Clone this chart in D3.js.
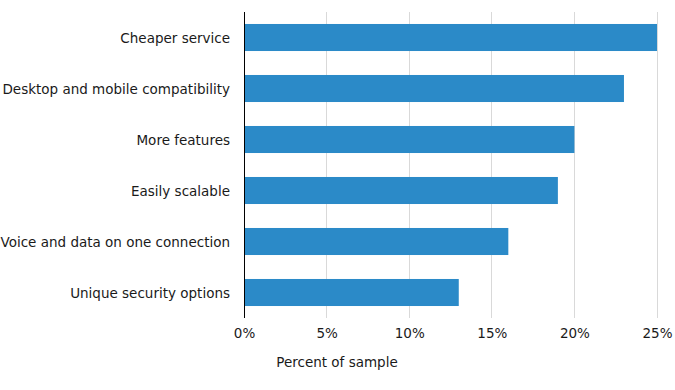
<!DOCTYPE html>
<html><head><meta charset="utf-8">
<script src="https://cdn.jsdelivr.net/npm/d3@7"></script>
<style>body{margin:0;background:#fff}svg{display:block}text{font-family:"DejaVu Sans",Verdana,sans-serif;fill:#1a1a1a}</style>
</head><body>
<svg id="c" width="675" height="390"></svg>
<script>
const categories = ["Cheaper service","Desktop and mobile compatibility","More features","Easily scalable","Voice and data on one connection","Unique security options"];
const values = [25,23,20,19,16,13];
const tickValues = [0,5,10,15,20,25];
const xTitle = "Percent of sample";

const svg = d3.select("#c");
const mLeft = 244, mRight = 657, mTop = 12, mBottom = 318;
const fs = "13.5px";
const x = d3.scaleLinear().domain([0,25]).range([mLeft,mRight]);
const y = d3.scaleBand().domain(categories).range([mTop,mBottom]).paddingInner(0.47).paddingOuter(0.235);

svg.append("g").selectAll("line").data(tickValues.slice(1)).join("line")
  .attr("x1",d=>x(d)).attr("x2",d=>x(d)).attr("y1",mTop).attr("y2",mBottom)
  .attr("stroke","#d9d9d9").attr("stroke-width",1).attr("shape-rendering","crispEdges");

svg.append("g").selectAll("rect").data(categories).join("rect")
  .attr("x",x(0)).attr("y",d=>y(d)).attr("width",(d,i)=>x(values[i])-x(0)).attr("height",y.bandwidth())
  .attr("fill","#2b8ac8");

svg.append("line").attr("x1",x(0)+0.5).attr("x2",x(0)+0.5).attr("y1",mTop).attr("y2",mBottom)
  .attr("stroke","#000").attr("stroke-width",1);

const xa = d3.axisBottom(x).tickValues(tickValues).tickSize(0).tickPadding(10).tickFormat(d=>d+"%");
const gx = svg.append("g").attr("transform",`translate(0,${mBottom})`).call(xa);
gx.select(".domain").remove();
gx.selectAll("text").style("font-size",fs).attr("fill","#1a1a1a").attr("font-family","DejaVu Sans, Verdana, sans-serif");

const ya = d3.axisLeft(y).tickSize(0).tickPadding(14);
const gy = svg.append("g").attr("transform",`translate(${mLeft},0)`).call(ya);
gy.select(".domain").remove();
gy.selectAll("text").style("font-size",fs).attr("fill","#1a1a1a").attr("font-family","DejaVu Sans, Verdana, sans-serif")
  .attr("dy","0.4em");

svg.append("text").attr("x",337).attr("y",367).attr("text-anchor","middle").style("font-size",fs).text(xTitle);
</script>
</body></html>
